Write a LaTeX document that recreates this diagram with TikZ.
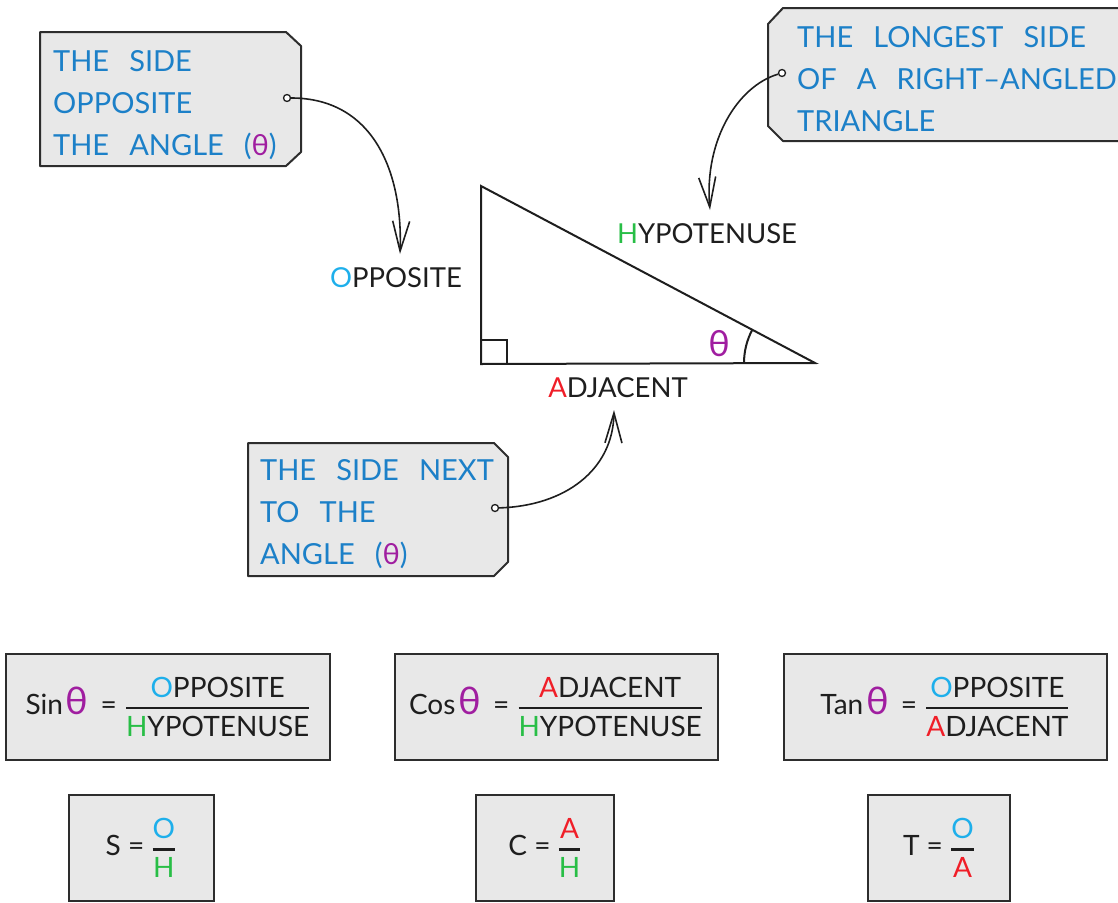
\documentclass[tikz,border=0pt]{standalone}
\usepackage{fontspec}
\usepackage{amsmath}
\setmainfont{Lato}
\newfontfamily\tagfamily{Lato}[WordSpace=2.7]
\usetikzlibrary{arrows.meta}
\definecolor{tagblue}{RGB}{28,128,200}
\definecolor{ocol}{RGB}{30,175,235}
\definecolor{hcol}{RGB}{40,190,70}
\definecolor{acol}{RGB}{240,30,40}
\definecolor{tcol}{RGB}{160,30,160}
\definecolor{boxfill}{RGB}{232,232,232}
\definecolor{boxline}{RGB}{45,45,45}
\definecolor{ink}{RGB}{30,30,30}
\newcommand\Oc{\textcolor{ocol}{O}}
\newcommand\Hc{\textcolor{hcol}{H}}
\newcommand\Ac{\textcolor{acol}{A}}
\newcommand\thc{\textcolor{tcol}{θ}}
\newcommand\thbig{{\fontsize{38}{38}\selectfont\textcolor{tcol}{θ}}}
\newcommand\myfrac[2]{$\displaystyle{\text{#1}\above 2.2pt\text{#2}}$}
\begin{document}
\begin{tikzpicture}[x=1pt,y=-1pt,
  tagbox/.style={draw=boxline,fill=boxfill,line width=2pt,line join=round},
  tagtext/.style={anchor=north west,inner sep=0pt,align=left,text=tagblue,
     font=\tagfamily\fontsize{29}{42}\selectfont},
  lbl/.style={inner sep=0pt,text=ink,font=\fontsize{27.5}{30}\selectfont},
  fbox/.style={draw=boxline,fill=boxfill,line width=2pt,inner sep=0pt,text=ink,
     font=\fontsize{28}{30}\selectfont},
  dot/.style={circle,draw=ink,fill=white,line width=1.3pt,inner sep=0pt,minimum size=7pt},
  conn/.style={draw=ink,line width=1.6pt,-{Straight Barb[length=30pt,width=17pt,line width=1.6pt]}},
  tri/.style={draw=ink,line width=2pt,line join=miter}]
\useasboundingbox (0,0) rectangle (1118,902);
\clip (0,0) rectangle (1118,902);

% triangle
\coordinate (T) at (481,186);
\coordinate (B) at (481,364);
\coordinate (R) at (815,363);
\draw[tri] (T) -- (B) -- (R) -- cycle;
\draw[tri] (481,340) -- (507,340) -- (507,364);
\draw[tri] (744,363) arc[start angle=180,end angle=208,radius=71];
\node[lbl,text=tcol,font=\fontsize{36}{36}\selectfont] (theta) at (719,344) {θ};

% labels
\node[lbl] (opp) at (396,278) {\Oc PPOSITE};
\node[lbl] (hyp) at (707,234) {\Hc YPOTENUSE};
\node[lbl] (adj) at (618,388) {\Ac DJACENT};

% tag 1
\draw[tagbox] (40,32) -- (286,32) -- (301,46) -- (301,152) -- (286,166) -- (40,166) -- cycle;
\node[tagtext] (t1) at (53,50) {THE SIDE\\OPPOSITE\\THE ANGLE (\thc)};
\node[dot] (d1) at (287,98) {};
\coordinate (e1) at (400,254);
\draw[conn] (d1) .. controls (372,98) and (403,170) .. (e1);

% tag 2
\draw[tagbox] (783,8) -- (1130,8) -- (1130,141) -- (783,141) -- (768,126) -- (768,24) -- cycle;
\node[tagtext] (t2) at (797,26) {THE LONGEST SIDE\\OF A RIGHT–ANGLED\\TRIANGLE};
\node[dot] (d2) at (782,73) {};
\coordinate (e2) at (710,210);
\draw[conn] (d2) .. controls (738,86) and (704,140) .. (e2);

% tag 3
\draw[tagbox] (248,443) -- (494,443) -- (508,457) -- (508,562) -- (494,576) -- (248,576) -- cycle;
\node[tagtext] (t3) at (260,459) {THE SIDE NEXT\\TO THE\\ANGLE (\thc)};
\node[dot] (d3) at (495,508) {};
\coordinate (e3) at (614,410);
\draw[conn] (d3) .. controls (565,506) and (613,470) .. (e3);

% formula boxes
\node[fbox,minimum width=324,minimum height=106] (sinb) at (168,707)
  {Sin\hspace{3pt}\thbig\hspace{12pt}=\hspace{8pt}\myfrac{\Oc PPOSITE}{\Hc YPOTENUSE}};
\node[fbox,minimum width=323,minimum height=106] (cosb) at (556,707)
  {Cos\hspace{3pt}\thbig\hspace{12pt}=\hspace{8pt}\myfrac{\Ac DJACENT}{\Hc YPOTENUSE}};
\node[fbox,minimum width=323,minimum height=106] (tanb) at (945,707)
  {Tan\hspace{3pt}\thbig\hspace{12pt}=\hspace{8pt}\myfrac{\Oc PPOSITE}{\Ac DJACENT}};

\node[fbox,minimum width=145,minimum height=106] (sb) at (141,848)
  {S = \myfrac{\Oc}{\Hc}};
\node[fbox,minimum width=138,minimum height=106] (cb) at (545,848)
  {C = \myfrac{\Ac}{\Hc}};
\node[fbox,minimum width=142,minimum height=106] (tb) at (939,848)
  {T = \myfrac{\Oc}{\Ac}};
\end{tikzpicture}
\end{document}
